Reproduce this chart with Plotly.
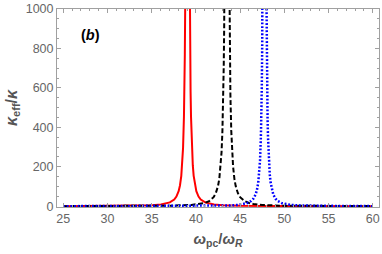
import plotly.graph_objects as go

# red solid curve
red_x = [25, 29.05, 33.05, 35.05, 36.05, 36.55, 37.05, 37.55, 37.8, 38.05, 38.2, 38.35, 38.45, 38.55,
         38.65, 38.7, 38.75, 38.8, 38.85, 38.9, 39.05, 39.2, 39.25, 39.3, 39.35, 39.4, 39.45, 39.55,
         39.65, 39.75, 39.9, 40.05, 40.3, 40.55, 41.05, 41.55, 42.05, 43.05, 45.05, 49.05, 60]
red_y = [0.4, 0.8, 2.1, 4.8, 8.5, 12.3, 19.2, 34, 49, 76, 105, 154, 208, 296,
         453, 581, 770, 1062, 1540, 2369, 7700, 2369, 1540, 1062, 770, 581, 453, 296,
         208, 154, 105, 76, 49, 34, 19.2, 12.3, 8.5, 4.8, 2.1, 0.8, 0.2]

# black dashed curve
black_x = [25, 33.5, 37.5, 39.5, 40.5, 41.0, 41.5, 42.0, 42.25, 42.5, 42.65, 42.8, 42.9, 43.0,
           43.1, 43.15, 43.2, 43.25, 43.3, 43.35, 43.5, 43.65, 43.7, 43.75, 43.8, 43.85, 43.9, 44.0,
           44.1, 44.2, 44.35, 44.5, 44.75, 45.0, 45.5, 46.0, 46.5, 47.5, 49.5, 53.5, 60]
black_y = [0.3, 1.05, 2.9, 6.5, 11.6, 16.7, 26, 46, 66, 102, 140, 204, 273, 382,
           568, 712, 913, 1200, 1615, 2211, 4200, 2211, 1615, 1200, 913, 712, 568, 382,
           273, 204, 140, 102, 66, 46, 26, 16.7, 11.6, 6.5, 2.9, 1.05, 0.4]

# blue dotted curve
blue_x = [25, 37.75, 41.75, 43.75, 44.75, 45.25, 45.75, 46.25, 46.5, 46.75, 46.9, 47.05, 47.15, 47.25,
          47.35, 47.4, 47.45, 47.5, 47.55, 47.6, 47.75, 47.9, 47.95, 48.0, 48.05, 48.1, 48.15, 48.25,
          48.35, 48.45, 48.6, 48.75, 49.0, 49.25, 49.75, 50.25, 50.75, 51.75, 53.75, 57.75, 60]
blue_y = [0.1, 0.6, 1.7, 3.7, 6.7, 9.6, 15, 26.6, 38, 59, 82, 120, 162, 231,
          353, 453, 600, 828, 1200, 1846, 6000, 1846, 1200, 828, 600, 453, 353, 231,
          162, 120, 82, 59, 38, 26.6, 15, 9.6, 6.7, 3.7, 1.7, 0.6, 0.4]

x_ticks = [25, 30, 35, 40, 45, 50, 55, 60]
y_ticks = [0, 200, 400, 600, 800, 1000]

fig = go.Figure()
fig.add_trace(go.Scatter(x=red_x, y=red_y, mode="lines",
                         line=dict(color="#ff0000", width=2), showlegend=False))
fig.add_trace(go.Scatter(x=black_x, y=black_y, mode="lines",
                         line=dict(color="#000000", width=2, dash="5px,2.5px"), showlegend=False))
fig.add_trace(go.Scatter(x=blue_x, y=blue_y, mode="lines",
                         line=dict(color="#0000ff", width=2.5, dash="1.8px,1.8px"), showlegend=False))

axis_col = "#a0a0a0"
tick_font = dict(family="Liberation Sans, Arial, sans-serif", size=12.5, color="#666666")

fig.update_xaxes(range=[24.3, 60.7], tickvals=x_ticks, ticktext=[str(v) for v in x_ticks],
                 showgrid=False, zeroline=False, showline=True, linecolor=axis_col, linewidth=1,
                 mirror="ticks", ticks="inside", ticklen=4, tickcolor=axis_col, tickwidth=1,
                 minor=dict(dtick=1, ticks="inside", ticklen=2, tickcolor=axis_col, showgrid=False),
                 tickfont=tick_font, ticklabeloverflow="allow",
                 title=dict(text="<b><i>ω</i><sub>pc</sub>/<i>ω</i><sub><i>R</i></sub></b>",
                            font=dict(family="Liberation Sans, Arial, sans-serif", size=15, color="#555555"),
                            standoff=8))
fig.update_yaxes(range=[-4, 1000], tickvals=y_ticks, ticktext=[str(v) for v in y_ticks],
                 showgrid=False, zeroline=False, showline=True, linecolor=axis_col, linewidth=1,
                 mirror="ticks", ticks="inside", ticklen=4, tickcolor=axis_col, tickwidth=1,
                 minor=dict(dtick=50, ticks="inside", ticklen=2, tickcolor=axis_col, showgrid=False),
                 tickfont=tick_font, ticklabeloverflow="allow",
                 title=dict(text="<b><i>κ</i><sub>eff</sub>/<i>κ</i></b>",
                            font=dict(family="Liberation Sans, Arial, sans-serif", size=16, color="#555555"),
                            standoff=4))

fig.add_annotation(text="<b>(<i>b</i>)</b>", xref="paper", yref="paper", x=0.103, y=0.87,
                   xanchor="center", yanchor="middle",
                   showarrow=False, font=dict(family="Liberation Sans, Arial, sans-serif", size=14.5, color="#000000"))

fig.update_layout(width=382, height=254, margin=dict(l=57, r=2, t=7, b=47),
                  plot_bgcolor="white", paper_bgcolor="white")

fig.write_html("out.html", config={"displayModeBar": False},
               post_script="document.body.style.margin='0';")
